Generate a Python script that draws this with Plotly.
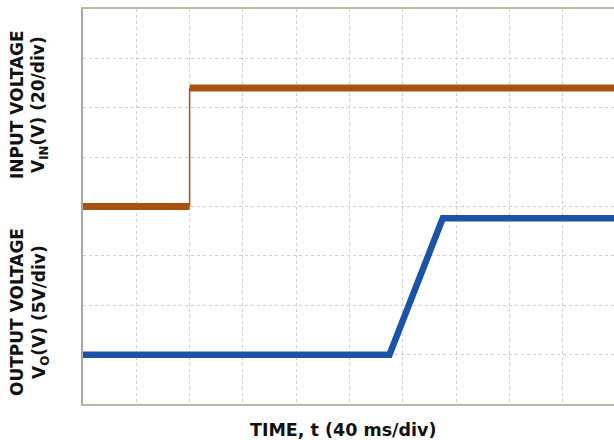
import plotly.graph_objects as go

# Time in ms (40 ms/div, 10 div)
t_in = [0, 80, 80, 400]
v_in = [0, 0, 48, 48]          # input voltage (V), 20 V/div
t_out = [0, 230, 270, 400]
v_out = [0, 0, 13.8, 13.8]     # output voltage (V), 5 V/div

BROWN = "#A9520F"
BLUE = "#1C52A8"
FONT = "DejaVu Sans"

fig = go.Figure()

# input: thick horizontal segments, thin vertical edge
thick_x, thick_y, thin_x, thin_y = [], [], [], []
for i in range(len(t_in) - 1):
    if t_in[i] == t_in[i + 1]:
        thin_x += [t_in[i], t_in[i + 1], None]
        thin_y += [v_in[i], v_in[i + 1], None]
    else:
        thick_x += [t_in[i], t_in[i + 1], None]
        thick_y += [v_in[i], v_in[i + 1], None]

fig.add_trace(go.Scatter(x=thin_x, y=thin_y, mode="lines", yaxis="y",
                         line=dict(color=BROWN, width=1.5), hoverinfo="skip"))
fig.add_trace(go.Scatter(x=thick_x, y=thick_y, mode="lines", yaxis="y",
                         line=dict(color=BROWN, width=7)))
fig.add_trace(go.Scatter(x=t_out, y=v_out, mode="lines", yaxis="y2",
                         line=dict(color=BLUE, width=6.5)))

# ground markers
fig.add_trace(go.Scatter(x=[-2.5], y=[v_in[0]], mode="markers", yaxis="y",
                         marker=dict(symbol="triangle-right", size=6, color=BROWN),
                         cliponaxis=False))
fig.add_trace(go.Scatter(x=[-2.5], y=[v_out[0]], mode="markers", yaxis="y2",
                         marker=dict(symbol="triangle-right", size=6, color=BLUE),
                         cliponaxis=False))

grid = dict(showgrid=True, gridcolor="#CFCFCF", gridwidth=1, griddash="dot",
            showticklabels=False, ticks="", zeroline=False)

fig.update_layout(
    width=614, height=440,
    margin=dict(l=83, r=0, t=9, b=36),
    paper_bgcolor="white", plot_bgcolor="white",
    showlegend=False,
    xaxis=dict(range=[0, 398.5], dtick=40, tick0=0, showline=True, mirror=True,
               linecolor="#B8B8A8", linewidth=2, **grid),
    yaxis=dict(range=[-80, 80], dtick=20, tick0=0, showline=True,
               linecolor="#A8A8A0", linewidth=2, **grid),
    yaxis2=dict(range=[-5, 35], overlaying="y", showgrid=False, showticklabels=False,
                ticks="", zeroline=False, showline=False),
)

def ann(text, x, y, angle=0, size=17):
    fig.add_annotation(text=text, x=x, y=y, xref="paper", yref="paper",
                       showarrow=False, textangle=angle, xanchor="center", yanchor="middle",
                       font=dict(family=FONT, size=size, color="#111111", weight="bold"))

# convert pixel to paper coords
def px(xp):
    return (xp - 83) / (614 - 83)

def py(yp):
    return (404 - yp) / (404 - 9)

ann("TIME, t (40 ms/div)", px(343), py(430), size=17.5)
ann("INPUT VOLTAGE", px(17), py(105), -90)
ann("V<sub>IN</sub>(V) (20/div)", px(40), py(105), -90)
ann("OUTPUT VOLTAGE", px(17), py(312), -90)
ann("V<sub>O</sub>(V) (5V/div)", px(40), py(312), -90)

fig.write_html("out.html")
